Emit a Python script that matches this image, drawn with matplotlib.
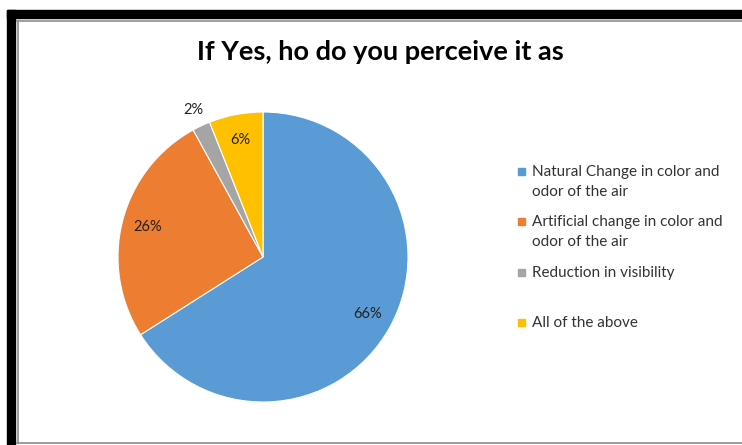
import numpy as np
import matplotlib.pyplot as plt
from matplotlib.patches import Rectangle
from matplotlib.lines import Line2D

# -----------------------------
# Data
# -----------------------------
title = "If Yes, ho do you perceive it as"
labels = [
    "Natural Change in color and\nodor of the air",
    "Artificial change in color and\nodor of the air",
    "Reduction in visibility",
    "All of the above",
]
values = [66, 26, 2, 6]
colors = ["#5B9BD5", "#ED7D31", "#A5A5A5", "#FFC000"]

plt.rcParams["font.family"] = ["Lato", "DejaVu Sans"]

W, H = 742, 445
fig = plt.figure(figsize=(W / 100, H / 100), dpi=100)


def fx(px):
    return px / W


def fy(py):
    return 1 - py / H


# -----------------------------
# Frame (black band + thin gray border)
# -----------------------------
fig.patches.append(Rectangle((fx(7), fy(18)), 1 - fx(7), fy(10) - fy(18),
                             transform=fig.transFigure, color="black", zorder=0))
fig.patches.append(Rectangle((fx(7), 0), fx(15) - fx(7), fy(10),
                             transform=fig.transFigure, color="black", zorder=0))
gray = "#8c8c8c"
fig.add_artist(Line2D([fx(17), 1], [fy(20.5), fy(20.5)], color=gray, lw=1.2,
                      transform=fig.transFigure))
fig.add_artist(Line2D([fx(17.5), fx(17.5)], [fy(20.5), fy(443)], color=gray, lw=1.2,
                      transform=fig.transFigure))
fig.add_artist(Line2D([fx(17), 1], [fy(443), fy(443)], color=gray, lw=1.2,
                      transform=fig.transFigure))

# -----------------------------
# Pie
# -----------------------------
cx, cy, r = 263, 257, 145
ax = fig.add_axes([fx(cx - r), fy(cy + r), (2 * r) / W, (2 * r) / H])
wedges, texts, autotexts = ax.pie(
    values,
    colors=colors,
    startangle=90,
    counterclock=False,
    autopct="%.0f%%",
    pctdistance=0.82,
    wedgeprops=dict(edgecolor="white", linewidth=0.8),
    textprops=dict(fontsize=10.5, color="#222222"),
)
ax.set_xlim(-1, 1)
ax.set_ylim(-1, 1)
ax.axis("off")

# small slice label sits outside the pie
small = autotexts[2]
w = wedges[2]
ang = np.deg2rad((w.theta1 + w.theta2) / 2)
small.set_position((1.13 * np.cos(ang), 1.12 * np.sin(ang)))

# -----------------------------
# Title
# -----------------------------
fig.text(fx(380), fy(52), title, ha="center", va="center",
         fontsize=19.5, fontweight="bold", color="black")

# -----------------------------
# Legend (Excel-style, evenly spaced)
# -----------------------------
top0, step = 171, 50.5
for i, (lab, col) in enumerate(zip(labels, colors)):
    y = top0 + i * step
    fig.patches.append(Rectangle((fx(518), fy(y + 3.5)), 7 / W, 7 / H,
                                 transform=fig.transFigure, color=col))
    fig.text(fx(532), fy(y - 6.5), lab, ha="left", va="top",
             fontsize=11, color="#333333", linespacing=1.55)

plt.savefig("out.png", dpi=100)
